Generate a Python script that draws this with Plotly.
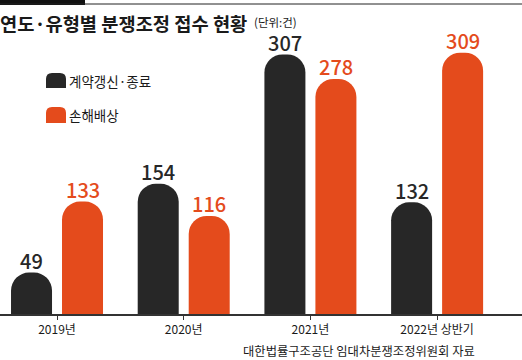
import plotly.graph_objects as go

categories = ["2019년", "2020년", "2021년", "2022년 상반기"]
renewal_end = [49, 154, 307, 132]
damages = [133, 116, 278, 309]
series_names = ["계약갱신·종료", "손해배상"]

BLACK = "#272727"
ORANGE = "#E44B1C"
FONT = "Noto Sans CJK KR"

W, H = 522, 360
ML, MR, MT, MB = 0, 0, 40, 46
PW, PH = W - ML - MR, H - MT - MB

BARGAP = 0.195
BARGROUPGAP = 0.196
HALF_SLOT = (1 - BARGAP) / 4  # offset of each bar centre from the category centre


def px(x):
    return (x - ML) / PW


def py(y):
    return (H - MB - y) / PH


xs = list(range(len(categories)))

fig = go.Figure()
fig.add_trace(go.Bar(
    x=xs, y=renewal_end, name=series_names[0],
    marker=dict(color=BLACK, cornerradius="45%", line=dict(width=0)),
    showlegend=False, hoverinfo="skip",
))
fig.add_trace(go.Bar(
    x=xs, y=damages, name=series_names[1],
    marker=dict(color=ORANGE, cornerradius="45%", line=dict(width=0)),
    showlegend=False, hoverinfo="skip",
))


def icon(x0, y0, x1, y1, r, color):
    path = (f"M {px(x0)},{py(y1)} L {px(x0)},{py(y0 + r)} "
            f"Q {px(x0)},{py(y0)} {px(x0 + r)},{py(y0)} "
            f"L {px(x1 - r)},{py(y0)} Q {px(x1)},{py(y0)} {px(x1)},{py(y0 + r)} "
            f"L {px(x1)},{py(y1)} Z")
    return dict(type="path", xref="paper", yref="paper", path=path,
                fillcolor=color, line=dict(width=0), layer="above")


shapes = [
    dict(type="rect", xref="paper", yref="paper", x0=px(0), x1=px(85), y0=py(0), y1=py(5),
         fillcolor="#111111", line=dict(width=0)),
    dict(type="line", xref="paper", yref="paper", x0=px(0), x1=px(522), y0=py(4), y1=py(4),
         line=dict(color="#222222", width=1)),
    icon(46, 73, 66, 88, 6, BLACK),
    icon(46, 107, 66, 123, 6, ORANGE),
]

annotations = [
    dict(xref="paper", yref="paper", x=px(-2), y=py(23), xanchor="left", yanchor="middle",
         text="<b>연도·유형별 분쟁조정 접수 현황</b>", showarrow=False,
         font=dict(family=FONT, size=18.7, color="#1a1a1a")),
    dict(xref="paper", yref="paper", x=px(253), y=py(22), xanchor="left", yanchor="middle",
         text="(단위:건)", showarrow=False, borderpad=0,
         font=dict(family=FONT, size=11.5, color="#1a1a1a")),
    dict(xref="paper", yref="paper", x=px(67), y=py(81), xanchor="left", yanchor="middle",
         text=series_names[0], showarrow=False,
         font=dict(family=FONT, size=13.5, color="#1a1a1a")),
    dict(xref="paper", yref="paper", x=px(67), y=py(115), xanchor="left", yanchor="middle",
         text=series_names[1], showarrow=False,
         font=dict(family=FONT, size=13.5, color="#1a1a1a")),
    dict(xref="paper", yref="paper", x=px(477), y=py(351), xanchor="right", yanchor="middle",
         text="대한법률구조공단 임대차분쟁조정위원회 자료", showarrow=False,
         font=dict(family=FONT, size=12.3, color="#1a1a1a")),
]

for i, v in enumerate(renewal_end):
    annotations.append(dict(x=i - HALF_SLOT, y=v, xref="x", yref="y", yanchor="middle",
                            yshift=12, text=str(v), showarrow=False, borderpad=0,
                            font=dict(family=FONT, size=20, color=BLACK, weight=500)))
for i, v in enumerate(damages):
    annotations.append(dict(x=i + HALF_SLOT, y=v, xref="x", yref="y", yanchor="middle",
                            yshift=12, text=str(v), showarrow=False, borderpad=0,
                            font=dict(family=FONT, size=20, color=ORANGE, weight=500)))

fig.update_layout(
    width=W, height=H,
    margin=dict(l=ML, r=MR, t=MT, b=MB),
    paper_bgcolor="white", plot_bgcolor="white",
    barmode="group", bargap=BARGAP, bargroupgap=BARGROUPGAP,
    shapes=shapes, annotations=annotations,
    xaxis=dict(
        range=[-0.45, 3.67], tickmode="array", tickvals=xs, ticktext=categories,
        showline=True, linecolor="#333333", linewidth=1.5,
        ticks="outside", ticklen=4, tickwidth=1, tickcolor="#333333",
        showgrid=False, zeroline=False, fixedrange=True,
        tickfont=dict(family=FONT, size=12, color="#1a1a1a"),
    ),
    yaxis=dict(range=[0, 324], visible=False, showgrid=False, zeroline=False),
    showlegend=False,
)

fig.write_html("out.html", config={"displayModeBar": False},
               post_script="document.body.style.margin='0';document.body.style.padding='0';")
